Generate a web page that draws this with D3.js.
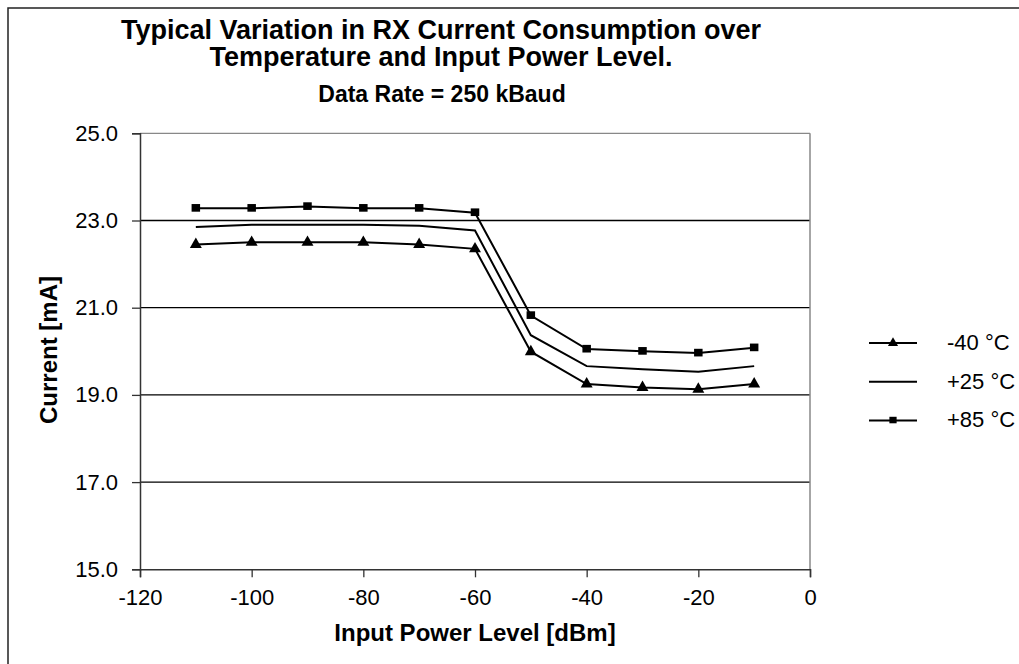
<!DOCTYPE html>
<html>
<head>
<meta charset="utf-8">
<script src="https://cdn.jsdelivr.net/npm/d3@7"></script>
<style>
  body { margin: 0; background: #fff; }
  svg { display: block; font-family: "Liberation Sans", Arial, sans-serif; }
</style>
</head>
<body>
<svg id="chart" width="1019" height="664"></svg>
<script>
// data
var inputPower = [-110, -100, -90, -80, -70, -60, -50, -40, -30, -20, -10];
var currentM40 = [22.45, 22.5, 22.5, 22.5, 22.45, 22.35, 19.99, 19.25, 19.17, 19.13, 19.25];
var currentP25 = [22.85, 22.9, 22.9, 22.9, 22.88, 22.77, 20.37, 19.66, 19.59, 19.53, 19.66];
var currentP85 = [23.28, 23.28, 23.32, 23.28, 23.28, 23.18, 20.82, 20.05, 20.0, 19.96, 20.08];
var xTicks = [-120, -100, -80, -60, -40, -20, 0];
var yTicks = [15, 17, 19, 21, 23, 25];
var seriesNames = ["-40 °C", "+25 °C", "+85 °C"];
var titleLines = ["Typical Variation in RX Current Consumption over", "Temperature and Input Power Level."];
var subTitle = "Data Rate = 250 kBaud";

var svg = d3.select("#chart");

// outer chart border (runs off right and bottom)
svg.append("rect")
  .attr("x", 8).attr("y", 8)
  .attr("width", 1100).attr("height", 700)
  .attr("fill", "none")
  .attr("stroke", "#222")
  .attr("stroke-width", 1.5);

var x = d3.scaleLinear().domain([-120, 0]).range([140, 810]);
var y = d3.scaleLinear().domain([15, 25]).range([569.3, 133.3]);

// gridlines
svg.append("g")
  .selectAll("line")
  .data(yTicks.filter(d => d > 15))
  .join("line")
    .attr("x1", x(-120)).attr("x2", x(0))
    .attr("y1", d => y(d)).attr("y2", d => y(d))
    .attr("stroke", d => d === 25 ? "#888" : "#000")
    .attr("stroke-width", 1.3);

// right border of plot area
svg.append("line")
  .attr("x1", x(0)).attr("x2", x(0))
  .attr("y1", y(25)).attr("y2", y(15))
  .attr("stroke", "#888").attr("stroke-width", 1.5);

var xAxis = d3.axisBottom(x).tickValues(xTicks).tickSize(8).tickPadding(12).tickFormat(d => String(d));
var yAxis = d3.axisLeft(y).tickValues(yTicks).tickSize(8).tickPadding(14).tickFormat(d3.format(".1f"));

var gx = svg.append("g")
  .attr("transform", "translate(0," + y(15) + ")")
  .call(xAxis);
var gy = svg.append("g")
  .attr("transform", "translate(" + x(-120) + ",0)")
  .call(yAxis);

[gx, gy].forEach(function(g) {
  g.select(".domain").attr("stroke", "#333").attr("stroke-width", 1.5);
  g.selectAll(".tick line").attr("stroke", "#333").attr("stroke-width", 1.3);
  g.selectAll(".tick text")
    .attr("fill", "#000")
    .style("font-size", "22px")
    .style("font-family", "'Liberation Sans', Arial, sans-serif");
});

// axis titles
svg.append("text")
  .attr("x", 475).attr("y", 641)
  .attr("text-anchor", "middle")
  .style("font-size", "24px").style("font-weight", "bold")
  .text("Input Power Level [dBm]");

svg.append("text")
  .attr("transform", "translate(57,350) rotate(-90)")
  .attr("text-anchor", "middle")
  .style("font-size", "24px").style("font-weight", "bold")
  .text("Current [mA]");

// titles
svg.append("g")
  .selectAll("text")
  .data(titleLines)
  .join("text")
    .attr("x", 441)
    .attr("y", (d, i) => 39 + i * 27)
    .attr("text-anchor", "middle")
    .style("font-size", "27px").style("font-weight", "bold")
    .text(d => d);

svg.append("text")
  .attr("x", 442).attr("y", 102)
  .attr("text-anchor", "middle")
  .style("font-size", "23px").style("font-weight", "bold")
  .text(subTitle);

// series
var series = [
  { name: seriesNames[0], values: currentM40, marker: "triangle" },
  { name: seriesNames[1], values: currentP25, marker: "none" },
  { name: seriesNames[2], values: currentP85, marker: "square" }
];

var line = d3.line()
  .x((d, i) => x(inputPower[i]))
  .y(d => y(d));

var triangle = d3.symbol().type(d3.symbolTriangle);

function drawMarker(g, type, cx, cy, scale) {
  if (type === "square") {
    var s = 8.5 * scale;
    g.append("rect")
      .attr("x", cx - s / 2).attr("y", cy - s / 2)
      .attr("width", s).attr("height", s * 0.9)
      .attr("fill", "#000");
  } else if (type === "triangle") {
    g.append("path")
      .attr("d", triangle.size(62 * scale * scale)())
      .attr("transform", "translate(" + cx + "," + cy + ")")
      .attr("fill", "#000");
  }
}

var plot = svg.append("g");
series.forEach(function(s) {
  plot.append("path")
    .attr("d", line(s.values))
    .attr("fill", "none")
    .attr("stroke", "#000")
    .attr("stroke-width", 2);
  s.values.forEach(function(v, i) {
    drawMarker(plot, s.marker, x(inputPower[i]), y(v), 1);
  });
});

// legend
var legend = svg.append("g");
series.forEach(function(s, i) {
  var ly = 343 + i * 38.7;
  legend.append("line")
    .attr("x1", 869).attr("x2", 917)
    .attr("y1", ly).attr("y2", ly)
    .attr("stroke", "#000").attr("stroke-width", 2);
  drawMarker(legend, s.marker, 893, ly, 0.85);
  legend.append("text")
    .attr("x", 947).attr("y", ly + 7)
    .style("font-size", "22px")
    .text(s.name);
});
</script>
</body>
</html>
